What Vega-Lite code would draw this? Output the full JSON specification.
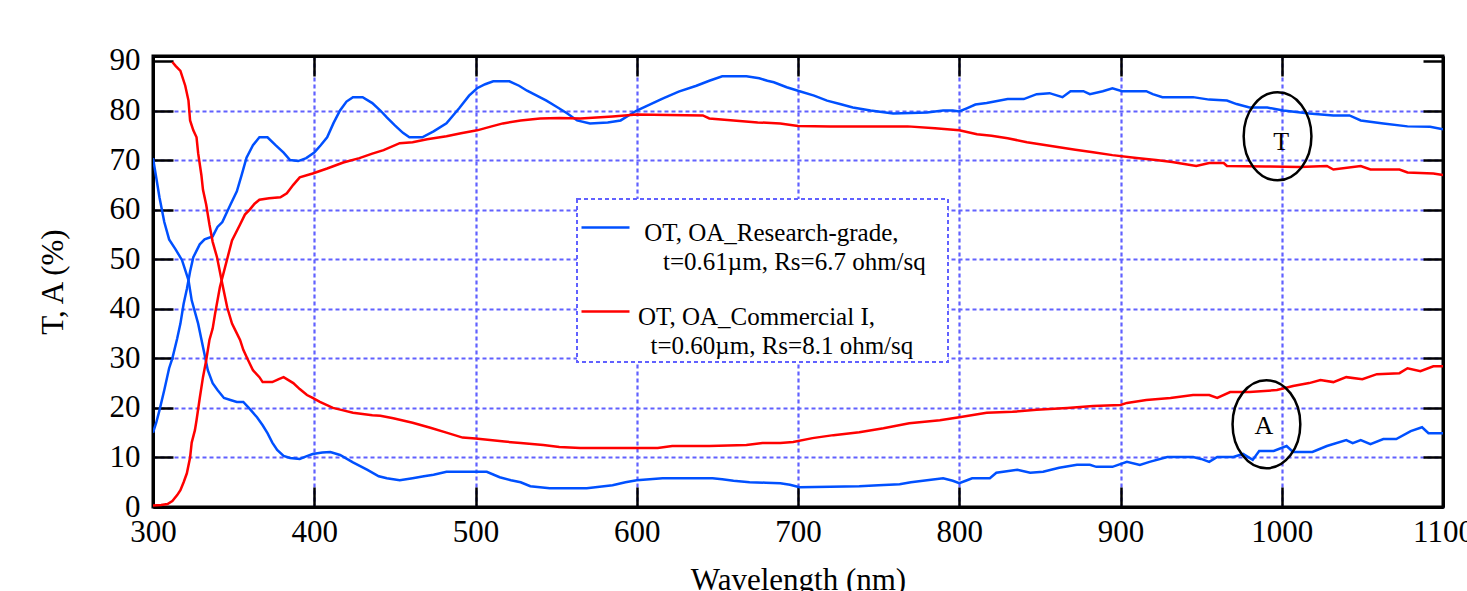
{
  "$schema": "https://vega.github.io/schema/vega-lite/v6.json",
  "autosize": "none",
  "width": 1290,
  "height": 451,
  "padding": {"left": 153, "top": 56, "right": 24, "bottom": 84},
  "background": "white",
  "config": {
    "view": {"stroke": "black", "strokeWidth": 3},
    "font": "Liberation Serif"
  },
  "datasets": {
    "curves": [
      {"s":"b","q":"T","x":300,"y":15},{"s":"b","q":"T","x":302,"y":17},{"s":"b","q":"T","x":304,"y":19.5},{"s":"b","q":"T","x":307,"y":23.6},{"s":"b","q":"T","x":310,"y":28},{"s":"b","q":"T","x":312,"y":30},{"s":"b","q":"T","x":315,"y":34},{"s":"b","q":"T","x":317,"y":37},{"s":"b","q":"T","x":319,"y":41},{"s":"b","q":"T","x":321,"y":44},{"s":"b","q":"T","x":323,"y":47.5},{"s":"b","q":"T","x":325,"y":50.4},{"s":"b","q":"T","x":329,"y":53},{"s":"b","q":"T","x":332,"y":54},{"s":"b","q":"T","x":337,"y":54.6},{"s":"b","q":"T","x":340,"y":56.5},{"s":"b","q":"T","x":343,"y":57.5},{"s":"b","q":"T","x":348,"y":61},{"s":"b","q":"T","x":352,"y":63.7},{"s":"b","q":"T","x":355,"y":67},{"s":"b","q":"T","x":358,"y":70.5},{"s":"b","q":"T","x":362,"y":73},{"s":"b","q":"T","x":366,"y":74.6},{"s":"b","q":"T","x":371,"y":74.6},{"s":"b","q":"T","x":376,"y":73},{"s":"b","q":"T","x":381,"y":71.5},{"s":"b","q":"T","x":385,"y":70},{"s":"b","q":"T","x":390,"y":69.8},{"s":"b","q":"T","x":395,"y":70.4},{"s":"b","q":"T","x":400,"y":71.5},{"s":"b","q":"T","x":404,"y":73},{"s":"b","q":"T","x":408,"y":74.6},{"s":"b","q":"T","x":412,"y":77.5},{"s":"b","q":"T","x":416,"y":80},{"s":"b","q":"T","x":420,"y":81.8},{"s":"b","q":"T","x":424,"y":82.7},{"s":"b","q":"T","x":430,"y":82.7},{"s":"b","q":"T","x":436,"y":81.5},{"s":"b","q":"T","x":441,"y":80},{"s":"b","q":"T","x":445,"y":78.6},{"s":"b","q":"T","x":450,"y":77},{"s":"b","q":"T","x":455,"y":75.5},{"s":"b","q":"T","x":459,"y":74.6},{"s":"b","q":"T","x":467,"y":74.6},{"s":"b","q":"T","x":474,"y":75.8},{"s":"b","q":"T","x":482,"y":77.4},{"s":"b","q":"T","x":490,"y":80.5},{"s":"b","q":"T","x":496,"y":83},{"s":"b","q":"T","x":501,"y":84.5},{"s":"b","q":"T","x":506,"y":85.3},{"s":"b","q":"T","x":511,"y":85.9},{"s":"b","q":"T","x":521,"y":85.9},{"s":"b","q":"T","x":527,"y":85},{"s":"b","q":"T","x":532,"y":84},{"s":"b","q":"T","x":538,"y":83},{"s":"b","q":"T","x":544,"y":82},{"s":"b","q":"T","x":550,"y":80.8},{"s":"b","q":"T","x":557,"y":79.4},{"s":"b","q":"T","x":563,"y":78},{"s":"b","q":"T","x":571,"y":77.4},{"s":"b","q":"T","x":582,"y":77.6},{"s":"b","q":"T","x":590,"y":78},{"s":"b","q":"T","x":595,"y":79},{"s":"b","q":"T","x":600,"y":80},{"s":"b","q":"T","x":608,"y":81.2},{"s":"b","q":"T","x":616,"y":82.4},{"s":"b","q":"T","x":626,"y":83.8},{"s":"b","q":"T","x":637,"y":85},{"s":"b","q":"T","x":645,"y":86},{"s":"b","q":"T","x":653,"y":86.9},{"s":"b","q":"T","x":668,"y":86.9},{"s":"b","q":"T","x":676,"y":86.5},{"s":"b","q":"T","x":681,"y":86},{"s":"b","q":"T","x":685,"y":85.7},{"s":"b","q":"T","x":689,"y":85.2},{"s":"b","q":"T","x":693,"y":84.7},{"s":"b","q":"T","x":701,"y":83.9},{"s":"b","q":"T","x":710,"y":83},{"s":"b","q":"T","x":718,"y":82},{"s":"b","q":"T","x":726,"y":81.3},{"s":"b","q":"T","x":734,"y":80.6},{"s":"b","q":"T","x":745,"y":80},{"s":"b","q":"T","x":759,"y":79.4},{"s":"b","q":"T","x":770,"y":79.5},{"s":"b","q":"T","x":780,"y":79.6},{"s":"b","q":"T","x":790,"y":80},{"s":"b","q":"T","x":796,"y":80},{"s":"b","q":"T","x":800,"y":79.8},{"s":"b","q":"T","x":805,"y":80.5},{"s":"b","q":"T","x":810,"y":81.2},{"s":"b","q":"T","x":817,"y":81.5},{"s":"b","q":"T","x":830,"y":82.3},{"s":"b","q":"T","x":840,"y":82.3},{"s":"b","q":"T","x":848,"y":83.3},{"s":"b","q":"T","x":856,"y":83.5},{"s":"b","q":"T","x":864,"y":82.7},{"s":"b","q":"T","x":869,"y":83.9},{"s":"b","q":"T","x":877,"y":83.9},{"s":"b","q":"T","x":881,"y":83.3},{"s":"b","q":"T","x":889,"y":83.9},{"s":"b","q":"T","x":895,"y":84.5},{"s":"b","q":"T","x":901,"y":83.9},{"s":"b","q":"T","x":916,"y":83.9},{"s":"b","q":"T","x":920,"y":83.3},{"s":"b","q":"T","x":926,"y":82.7},{"s":"b","q":"T","x":945,"y":82.7},{"s":"b","q":"T","x":955,"y":82.2},{"s":"b","q":"T","x":966,"y":82},{"s":"b","q":"T","x":972,"y":81.3},{"s":"b","q":"T","x":980,"y":80.6},{"s":"b","q":"T","x":991,"y":80.6},{"s":"b","q":"T","x":1001,"y":80},{"s":"b","q":"T","x":1017,"y":79.4},{"s":"b","q":"T","x":1032,"y":79},{"s":"b","q":"T","x":1042,"y":79},{"s":"b","q":"T","x":1049,"y":78},{"s":"b","q":"T","x":1063,"y":77.4},{"s":"b","q":"T","x":1078,"y":76.8},{"s":"b","q":"T","x":1092,"y":76.7},{"s":"b","q":"T","x":1100,"y":76.2},

      {"s":"b","q":"A","x":300,"y":70.4},{"s":"b","q":"A","x":302,"y":66.5},{"s":"b","q":"A","x":304,"y":62.5},{"s":"b","q":"A","x":307,"y":57.5},{"s":"b","q":"A","x":310,"y":54},{"s":"b","q":"A","x":314,"y":52},{"s":"b","q":"A","x":318,"y":49.8},{"s":"b","q":"A","x":322,"y":45.8},{"s":"b","q":"A","x":324,"y":41.7},{"s":"b","q":"A","x":328,"y":37},{"s":"b","q":"A","x":331,"y":32.3},{"s":"b","q":"A","x":334,"y":27.6},{"s":"b","q":"A","x":337,"y":25},{"s":"b","q":"A","x":340,"y":23.6},{"s":"b","q":"A","x":344,"y":22},{"s":"b","q":"A","x":348,"y":21.6},{"s":"b","q":"A","x":352,"y":21.2},{"s":"b","q":"A","x":356,"y":21.2},{"s":"b","q":"A","x":360,"y":19.8},{"s":"b","q":"A","x":364.5,"y":18.1},{"s":"b","q":"A","x":368,"y":16.5},{"s":"b","q":"A","x":371,"y":14.9},{"s":"b","q":"A","x":374,"y":13},{"s":"b","q":"A","x":377,"y":11.5},{"s":"b","q":"A","x":381,"y":10.3},{"s":"b","q":"A","x":385,"y":9.9},{"s":"b","q":"A","x":391,"y":9.7},{"s":"b","q":"A","x":395,"y":10.2},{"s":"b","q":"A","x":399,"y":10.7},{"s":"b","q":"A","x":405,"y":11},{"s":"b","q":"A","x":410,"y":11.1},{"s":"b","q":"A","x":416,"y":10.5},{"s":"b","q":"A","x":424,"y":9},{"s":"b","q":"A","x":433,"y":7.5},{"s":"b","q":"A","x":440,"y":6.2},{"s":"b","q":"A","x":445,"y":5.8},{"s":"b","q":"A","x":453,"y":5.4},{"s":"b","q":"A","x":461,"y":5.8},{"s":"b","q":"A","x":468,"y":6.2},{"s":"b","q":"A","x":474,"y":6.5},{"s":"b","q":"A","x":482,"y":7.1},{"s":"b","q":"A","x":495,"y":7.1},{"s":"b","q":"A","x":507,"y":7.1},{"s":"b","q":"A","x":515,"y":6},{"s":"b","q":"A","x":522,"y":5.4},{"s":"b","q":"A","x":528,"y":5},{"s":"b","q":"A","x":534,"y":4.2},{"s":"b","q":"A","x":546,"y":3.8},{"s":"b","q":"A","x":558,"y":3.8},{"s":"b","q":"A","x":569,"y":3.8},{"s":"b","q":"A","x":577,"y":4.1},{"s":"b","q":"A","x":585,"y":4.4},{"s":"b","q":"A","x":593,"y":5},{"s":"b","q":"A","x":600,"y":5.4},{"s":"b","q":"A","x":616,"y":5.8},{"s":"b","q":"A","x":630,"y":5.8},{"s":"b","q":"A","x":647,"y":5.8},{"s":"b","q":"A","x":653,"y":5.6},{"s":"b","q":"A","x":660,"y":5.3},{"s":"b","q":"A","x":670,"y":5},{"s":"b","q":"A","x":680,"y":4.9},{"s":"b","q":"A","x":689,"y":4.8},{"s":"b","q":"A","x":695,"y":4.5},{"s":"b","q":"A","x":701,"y":4},{"s":"b","q":"A","x":720,"y":4.1},{"s":"b","q":"A","x":738,"y":4.2},{"s":"b","q":"A","x":750,"y":4.4},{"s":"b","q":"A","x":763,"y":4.6},{"s":"b","q":"A","x":770,"y":5},{"s":"b","q":"A","x":780,"y":5.4},{"s":"b","q":"A","x":790,"y":5.8},{"s":"b","q":"A","x":796,"y":5.3},{"s":"b","q":"A","x":800,"y":4.8},{"s":"b","q":"A","x":804,"y":5.3},{"s":"b","q":"A","x":808,"y":5.8},{"s":"b","q":"A","x":819,"y":5.8},{"s":"b","q":"A","x":823,"y":6.9},{"s":"b","q":"A","x":836,"y":7.5},{"s":"b","q":"A","x":844,"y":6.9},{"s":"b","q":"A","x":852,"y":7.1},{"s":"b","q":"A","x":862,"y":7.9},{"s":"b","q":"A","x":873,"y":8.5},{"s":"b","q":"A","x":881,"y":8.5},{"s":"b","q":"A","x":885,"y":8.1},{"s":"b","q":"A","x":895,"y":8.1},{"s":"b","q":"A","x":904,"y":9.1},{"s":"b","q":"A","x":912,"y":8.5},{"s":"b","q":"A","x":918,"y":9.1},{"s":"b","q":"A","x":929,"y":10.1},{"s":"b","q":"A","x":945,"y":10.1},{"s":"b","q":"A","x":950,"y":9.7},{"s":"b","q":"A","x":955,"y":9.1},{"s":"b","q":"A","x":960,"y":10.1},{"s":"b","q":"A","x":970,"y":10.1},{"s":"b","q":"A","x":976,"y":10.7},{"s":"b","q":"A","x":982,"y":9.5},{"s":"b","q":"A","x":986,"y":11.3},{"s":"b","q":"A","x":995,"y":11.3},{"s":"b","q":"A","x":1003,"y":12.3},{"s":"b","q":"A","x":1007,"y":11.1},{"s":"b","q":"A","x":1019,"y":11.1},{"s":"b","q":"A","x":1028,"y":12.3},{"s":"b","q":"A","x":1040,"y":13.5},{"s":"b","q":"A","x":1044,"y":12.9},{"s":"b","q":"A","x":1049,"y":13.5},{"s":"b","q":"A","x":1055,"y":12.7},{"s":"b","q":"A","x":1063,"y":13.7},{"s":"b","q":"A","x":1071,"y":13.7},{"s":"b","q":"A","x":1080,"y":15.3},{"s":"b","q":"A","x":1087,"y":16.1},{"s":"b","q":"A","x":1091,"y":14.9},{"s":"b","q":"A","x":1100,"y":14.9},

      {"s":"r","q":"T","x":300,"y":0.3},{"s":"r","q":"T","x":305,"y":0.4},{"s":"r","q":"T","x":309,"y":0.6},{"s":"r","q":"T","x":312,"y":1.2},{"s":"r","q":"T","x":315,"y":2.4},{"s":"r","q":"T","x":317,"y":3.4},{"s":"r","q":"T","x":319,"y":5},{"s":"r","q":"T","x":321,"y":6.8},{"s":"r","q":"T","x":323,"y":10},{"s":"r","q":"T","x":324,"y":13},{"s":"r","q":"T","x":326,"y":15.5},{"s":"r","q":"T","x":327,"y":17.5},{"s":"r","q":"T","x":329,"y":22},{"s":"r","q":"T","x":331,"y":26.2},{"s":"r","q":"T","x":333,"y":29.6},{"s":"r","q":"T","x":335,"y":33.7},{"s":"r","q":"T","x":337,"y":36},{"s":"r","q":"T","x":338.5,"y":39},{"s":"r","q":"T","x":341.5,"y":44.4},{"s":"r","q":"T","x":344.7,"y":48.4},{"s":"r","q":"T","x":349,"y":53.8},{"s":"r","q":"T","x":354,"y":57},{"s":"r","q":"T","x":357,"y":59},{"s":"r","q":"T","x":360,"y":60},{"s":"r","q":"T","x":363,"y":61.2},{"s":"r","q":"T","x":366,"y":62},{"s":"r","q":"T","x":372,"y":62.3},{"s":"r","q":"T","x":379,"y":62.5},{"s":"r","q":"T","x":383,"y":63.3},{"s":"r","q":"T","x":387,"y":65},{"s":"r","q":"T","x":391,"y":66.5},{"s":"r","q":"T","x":399,"y":67.3},{"s":"r","q":"T","x":408,"y":68.3},{"s":"r","q":"T","x":418,"y":69.5},{"s":"r","q":"T","x":428,"y":70.4},{"s":"r","q":"T","x":436,"y":71.3},{"s":"r","q":"T","x":443,"y":72},{"s":"r","q":"T","x":453,"y":73.4},{"s":"r","q":"T","x":461,"y":73.6},{"s":"r","q":"T","x":470,"y":74.2},{"s":"r","q":"T","x":482,"y":74.8},{"s":"r","q":"T","x":491,"y":75.4},{"s":"r","q":"T","x":501,"y":76},{"s":"r","q":"T","x":510,"y":76.8},{"s":"r","q":"T","x":517,"y":77.4},{"s":"r","q":"T","x":528,"y":78},{"s":"r","q":"T","x":540,"y":78.4},{"s":"r","q":"T","x":552,"y":78.5},{"s":"r","q":"T","x":565,"y":78.4},{"s":"r","q":"T","x":575,"y":78.6},{"s":"r","q":"T","x":585,"y":78.8},{"s":"r","q":"T","x":600,"y":79.2},{"s":"r","q":"T","x":620,"y":79.1},{"s":"r","q":"T","x":641,"y":79},{"s":"r","q":"T","x":645,"y":78.4},{"s":"r","q":"T","x":660,"y":78},{"s":"r","q":"T","x":675,"y":77.6},{"s":"r","q":"T","x":689,"y":77.4},{"s":"r","q":"T","x":700,"y":76.9},{"s":"r","q":"T","x":720,"y":76.8},{"s":"r","q":"T","x":740,"y":76.8},{"s":"r","q":"T","x":768,"y":76.8},{"s":"r","q":"T","x":785,"y":76.4},{"s":"r","q":"T","x":800,"y":76},{"s":"r","q":"T","x":811,"y":75.2},{"s":"r","q":"T","x":820,"y":74.9},{"s":"r","q":"T","x":830,"y":74.4},{"s":"r","q":"T","x":842,"y":73.6},{"s":"r","q":"T","x":850,"y":73.2},{"s":"r","q":"T","x":862,"y":72.6},{"s":"r","q":"T","x":872,"y":72.1},{"s":"r","q":"T","x":883,"y":71.6},{"s":"r","q":"T","x":895,"y":71},{"s":"r","q":"T","x":910,"y":70.4},{"s":"r","q":"T","x":922,"y":70},{"s":"r","q":"T","x":932,"y":69.6},{"s":"r","q":"T","x":947,"y":68.8},{"s":"r","q":"T","x":955,"y":69.4},{"s":"r","q":"T","x":964,"y":69.4},{"s":"r","q":"T","x":966,"y":68.8},{"s":"r","q":"T","x":990,"y":68.7},{"s":"r","q":"T","x":1011,"y":68.6},{"s":"r","q":"T","x":1028,"y":68.8},{"s":"r","q":"T","x":1032,"y":68.1},{"s":"r","q":"T","x":1049,"y":68.8},{"s":"r","q":"T","x":1055,"y":68.1},{"s":"r","q":"T","x":1073,"y":68.1},{"s":"r","q":"T","x":1078,"y":67.5},{"s":"r","q":"T","x":1094,"y":67.3},{"s":"r","q":"T","x":1100,"y":67},

      {"s":"r","q":"A","x":312,"y":89.8},{"s":"r","q":"A","x":314,"y":89},{"s":"r","q":"A","x":317,"y":88},{"s":"r","q":"A","x":320,"y":85},{"s":"r","q":"A","x":322,"y":82},{"s":"r","q":"A","x":323,"y":78},{"s":"r","q":"A","x":325,"y":76},{"s":"r","q":"A","x":327,"y":74.6},{"s":"r","q":"A","x":328,"y":71.4},{"s":"r","q":"A","x":330,"y":67},{"s":"r","q":"A","x":331,"y":64},{"s":"r","q":"A","x":333,"y":61},{"s":"r","q":"A","x":335,"y":57},{"s":"r","q":"A","x":337,"y":53.5},{"s":"r","q":"A","x":339.7,"y":50.4},{"s":"r","q":"A","x":343,"y":45},{"s":"r","q":"A","x":346,"y":40.3},{"s":"r","q":"A","x":349,"y":37},{"s":"r","q":"A","x":351,"y":35.7},{"s":"r","q":"A","x":354,"y":33.7},{"s":"r","q":"A","x":356,"y":31.7},{"s":"r","q":"A","x":359,"y":29.6},{"s":"r","q":"A","x":362,"y":27.6},{"s":"r","q":"A","x":366,"y":26.2},{"s":"r","q":"A","x":368,"y":25.2},{"s":"r","q":"A","x":374,"y":25.2},{"s":"r","q":"A","x":378,"y":25.8},{"s":"r","q":"A","x":381,"y":26.2},{"s":"r","q":"A","x":384,"y":25.6},{"s":"r","q":"A","x":387,"y":25},{"s":"r","q":"A","x":391,"y":23.8},{"s":"r","q":"A","x":395.5,"y":22.6},{"s":"r","q":"A","x":399,"y":22},{"s":"r","q":"A","x":403.5,"y":21.2},{"s":"r","q":"A","x":411.6,"y":20},{"s":"r","q":"A","x":418,"y":19.5},{"s":"r","q":"A","x":424,"y":19},{"s":"r","q":"A","x":436,"y":18.5},{"s":"r","q":"A","x":441,"y":18.4},{"s":"r","q":"A","x":449,"y":17.9},{"s":"r","q":"A","x":461,"y":17},{"s":"r","q":"A","x":472,"y":16},{"s":"r","q":"A","x":482,"y":15},{"s":"r","q":"A","x":492,"y":14},{"s":"r","q":"A","x":500,"y":13.8},{"s":"r","q":"A","x":509,"y":13.5},{"s":"r","q":"A","x":518,"y":13.2},{"s":"r","q":"A","x":528,"y":12.9},{"s":"r","q":"A","x":542,"y":12.5},{"s":"r","q":"A","x":552,"y":12.1},{"s":"r","q":"A","x":565,"y":11.9},{"s":"r","q":"A","x":585,"y":11.9},{"s":"r","q":"A","x":600,"y":11.9},{"s":"r","q":"A","x":613,"y":11.9},{"s":"r","q":"A","x":622,"y":12.3},{"s":"r","q":"A","x":645,"y":12.3},{"s":"r","q":"A","x":668,"y":12.5},{"s":"r","q":"A","x":678,"y":12.9},{"s":"r","q":"A","x":689,"y":12.9},{"s":"r","q":"A","x":697,"y":13.1},{"s":"r","q":"A","x":709,"y":13.9},{"s":"r","q":"A","x":722,"y":14.5},{"s":"r","q":"A","x":738,"y":15.1},{"s":"r","q":"A","x":753,"y":15.9},{"s":"r","q":"A","x":769,"y":16.9},{"s":"r","q":"A","x":788,"y":17.5},{"s":"r","q":"A","x":800,"y":18.1},{"s":"r","q":"A","x":817,"y":19},{"s":"r","q":"A","x":833,"y":19.2},{"s":"r","q":"A","x":848,"y":19.6},{"s":"r","q":"A","x":867,"y":20},{"s":"r","q":"A","x":883,"y":20.4},{"s":"r","q":"A","x":900,"y":20.6},{"s":"r","q":"A","x":904,"y":21},{"s":"r","q":"A","x":916,"y":21.6},{"s":"r","q":"A","x":931,"y":22},{"s":"r","q":"A","x":945,"y":22.6},{"s":"r","q":"A","x":955,"y":22.6},{"s":"r","q":"A","x":960,"y":22},{"s":"r","q":"A","x":968,"y":23.2},{"s":"r","q":"A","x":980,"y":23.2},{"s":"r","q":"A","x":997,"y":23.6},{"s":"r","q":"A","x":1007,"y":24.4},{"s":"r","q":"A","x":1017,"y":25},{"s":"r","q":"A","x":1024,"y":25.6},{"s":"r","q":"A","x":1032,"y":25.2},{"s":"r","q":"A","x":1040,"y":26.2},{"s":"r","q":"A","x":1050,"y":25.8},{"s":"r","q":"A","x":1059,"y":26.8},{"s":"r","q":"A","x":1073,"y":27},{"s":"r","q":"A","x":1078,"y":28},{"s":"r","q":"A","x":1086,"y":27.4},{"s":"r","q":"A","x":1094,"y":28.4},{"s":"r","q":"A","x":1100,"y":28.4}
    ],
    "notes": [
      {"x": 997.4, "y": 74.8, "t": "T", "tx": 999.6, "ty": 73.6},
      {"x": 990.5, "y": 16.7, "t": "A", "tx": 989, "ty": 16.3}
    ]
  },
  "layer": [
    {
      "data": {"name": "curves"},
      "mark": {"type": "line", "strokeWidth": 2.5, "clip": true},
      "encoding": {
        "x": {
          "field": "x", "type": "quantitative",
          "scale": {"domain": [300, 1100], "nice": false, "zero": false},
          "axis": {
            "orient": "bottom",
            "values": [300, 400, 500, 600, 700, 800, 900, 1000, 1100],
            "format": "d",
            "title": "Wavelength (nm)",
            "titleFont": "Liberation Serif", "titleFontSize": 31, "titleFontWeight": "normal", "titleColor": "black", "titlePadding": 18,
            "labelFont": "Liberation Serif", "labelFontSize": 31, "labelColor": "black", "labelPadding": 30, "labelFlush": false, "labelOverlap": false,
            "tickSize": -20, "tickWidth": 2.5, "tickColor": "black",
            "domainColor": "black", "domainWidth": 3,
            "grid": true, "gridColor": "#6161ff", "gridDash": [4, 3], "gridWidth": 2.2
          }
        },
        "y": {
          "field": "y", "type": "quantitative",
          "scale": {"domain": [0, 91], "nice": false, "zero": false},
          "axis": {
            "orient": "left",
            "values": [0, 10, 20, 30, 40, 50, 60, 70, 80, 90],
            "format": "d",
            "title": "T, A (%)",
            "titleFont": "Liberation Serif", "titleFontSize": 31, "titleFontWeight": "normal", "titleColor": "black", "titlePadding": 40,
            "labelFont": "Liberation Serif", "labelFontSize": 31, "labelColor": "black", "labelPadding": 33, "labelFlush": false, "labelOverlap": false,
            "tickSize": -20, "tickWidth": 2.5, "tickColor": "black",
            "domainColor": "black", "domainWidth": 3,
            "grid": true, "gridColor": "#6161ff", "gridDash": [4, 3], "gridWidth": 2.2,
            "gridOpacity": {"condition": {"test": "datum.value >= 90", "value": 0}, "value": 1}
          }
        },
        "color": {
          "field": "s", "type": "nominal",
          "scale": {"domain": ["b", "r"], "range": ["#0050ff", "#ff0000"]},
          "legend": {
            "orient": "none", "legendX": 424, "legendY": 143,
            "title": null,
            "symbolType": "stroke", "symbolSize": 2304, "symbolStrokeWidth": 2.5,
            "labelFont": "Liberation Serif", "labelFontSize": 25, "labelColor": "black", "labelLimit": 0, "labelOffset": 7,
            "labelBaseline": "top",
            "rowPadding": 11, "padding": 3,
            "fillColor": "white", "strokeColor": "#6161ff",
            "labelExpr": "datum.value == 'b' ? ['\u200b\u00a0OT, OA_Research-grade,', '\u200b\u00a0\u00a0\u00a0\u00a0t=0.61µm, Rs=6.7 ohm/sq\u00a0\u00a0\u00a0\u200b'] : ['OT, OA_Commercial I,', '\u200b\u00a0\u00a0t=0.60µm, Rs=8.1 ohm/sq']",
            "encode": {
              "labels": {"update": {"lineHeight": {"value": 29}, "dy": {"value": -7}}},
              "legend": {"update": {"strokeDash": {"value": [4, 3]}, "strokeWidth": {"value": 2}}}
            }
          }
        },
        "detail": {"field": "q", "type": "nominal"},
        "order": {"field": "x", "type": "quantitative"}
      }
    },
    {
      "data": {"name": "notes"},
      "mark": {"type": "point", "shape": "M -0.77 0 A 0.77 1 0 1 1 0.77 0 A 0.77 1 0 1 1 -0.77 0 Z", "size": 7744, "filled": false, "stroke": "black", "strokeWidth": 2.5, "opacity": 1},
      "encoding": {
        "x": {
          "field": "x", "type": "quantitative",
          "axis": {
            "orient": "top", "values": [300, 400, 500, 600, 700, 800, 900, 1000, 1100],
            "labels": false, "title": null, "grid": false,
            "tickSize": -20, "tickWidth": 2.5, "tickColor": "black",
            "domainColor": "black", "domainWidth": 3
          }
        },
        "y": {
          "field": "y", "type": "quantitative",
          "axis": {
            "orient": "right", "values": [0, 10, 20, 30, 40, 50, 60, 70, 80, 90],
            "labels": false, "title": null, "grid": false,
            "tickSize": -20, "tickWidth": 2.5, "tickColor": "black",
            "domainColor": "black", "domainWidth": 3
          }
        }
      }
    },
    {
      "data": {"name": "notes"},
      "mark": {"type": "text", "font": "Liberation Serif", "fontSize": 26, "color": "black", "align": "center", "baseline": "middle"},
      "encoding": {
        "x": {"field": "tx", "type": "quantitative", "axis": null},
        "y": {"field": "ty", "type": "quantitative", "axis": null},
        "text": {"field": "t"}
      }
    }
  ],
  "resolve": {"axis": {"x": "independent", "y": "independent"}}
}
